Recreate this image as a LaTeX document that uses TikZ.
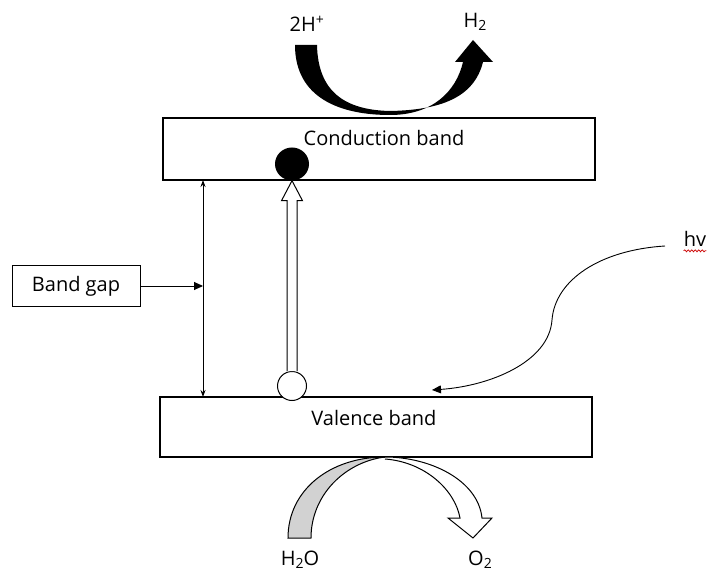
\documentclass[tikz,border=0pt]{standalone}
\usepackage{fontspec}
\setmainfont{Open Sans}
\usetikzlibrary{shapes.geometric,arrows.meta,positioning,calc,decorations.pathmorphing}
\newcommand{\lowtwo}{\raisebox{-0.3ex}{\fontsize{14}{14}\selectfont 2}}
\tikzset{
  bandbox/.style={draw, line width=1.1pt, minimum width=432pt, inner sep=0pt},
  lbl/.style={font=\fontsize{20}{24}\selectfont, inner sep=0pt},
  thinarrow/.style={-{Triangle[length=9pt,width=8pt]}, line width=0.9pt},
  gaparrow/.style={{Stealth[length=7pt,width=5pt]}-{Stealth[length=7pt,width=5pt]}, line width=0.9pt},
  hollow/.style={draw, line width=1pt, fill=white},
}
\begin{document}
\begin{tikzpicture}[x=1pt,y=-1pt]
  \useasboundingbox (0,0) rectangle (710,572);
  % bands
  \node[bandbox, minimum height=62pt] (cb) at (379,149) {};
  \node[lbl] (cbtext) at (384,138) {Conduction band};
  \node[bandbox, minimum height=60pt] (vb) at (376,427) {};
  \node[lbl] (vbtext) at (374,418) {Valence band};

  % band gap
  \node[draw, line width=1pt, minimum width=128pt, minimum height=41pt, lbl] (gap) at (76,286) {Band gap};
  \coordinate (gtop) at (203,180);
  \coordinate (gbot) at (203,397);
  \draw[gaparrow] (gtop) -- (gbot);
  \draw[thinarrow] (gap.east) -- (gap.east -| gtop);

  % electron and hole
  \node[ellipse, fill=black, minimum width=34pt, minimum height=33pt, inner sep=0pt] (el) at (292,164) {};
  \node[circle, draw, line width=1pt, fill=white, minimum size=29pt, inner sep=0pt] (hole) at (292,386) {};
  \path (el.south) coordinate (tip) ++(0,20) coordinate (hb);
  \draw[hollow] ($(hole.north)+(-5,0)$) -- ($(hb)+(-5,0)$) -- ($(hb)+(-10.5,0)$) -- (tip)
    -- ($(hb)+(10.5,0)$) -- ($(hb)+(5,0)$) -- ($(hole.north)+(5,0)$);

  % reduction
  \node[lbl] (hplus) at (307,24) {2H\textsuperscript{+}};
  \node[lbl] (htwo) at (475,22) {H\lowtwo};
  \fill (295,45) .. controls (295,98) and (340,115) .. (390,115)
    .. controls (432,115) and (456,92) .. (463,62) -- (455,62) -- (473,40) -- (493,62) -- (483,62)
    .. controls (474,98) and (440,110) .. (390,111)
    .. controls (345,110) and (318,92) .. (317,45) -- cycle;

  % oxidation
  \node[lbl] (water) at (300,560) {H\lowtwo O};
  \node[lbl] (otwo) at (480,560) {O\lowtwo};
  \draw[line width=1pt, fill=gray!35] (288,538) .. controls (288,490) and (330,457) .. (385,457)
    .. controls (345,462) and (311,495) .. (311,538) -- cycle;
  \draw[hollow] (385,457) .. controls (430,457) and (478,480) .. (482,518) -- (492,518) -- (473,538)
    -- (448,518) -- (460,518) .. controls (455,490) and (425,462) .. (385,459);

  % light
  \node[lbl] (hv) at (695,239) {hv};
  \draw[red!80!black, line width=0.7pt, decorate, decoration={snake, amplitude=1pt, segment length=3.5pt}]
    ($(hv.south west)+(0,4)$) -- ($(hv.south east)+(0,4)$);
  \coordinate (hvstart) at (665,246);
  \coordinate (hvend) at (432,390);
  \draw[thinarrow] (hvstart) .. controls (600,250) and (555,280) .. (552,320)
    .. controls (549,362) and (490,386) .. (hvend);
\end{tikzpicture}
\end{document}
